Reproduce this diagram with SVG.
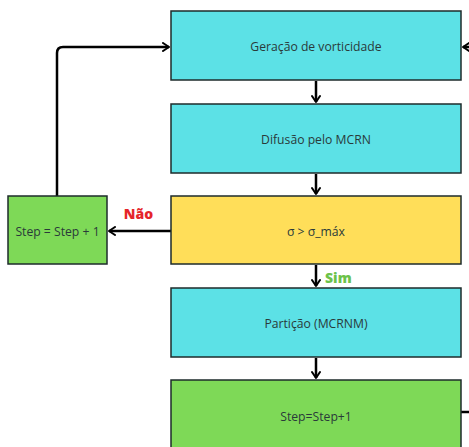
<svg xmlns="http://www.w3.org/2000/svg" width="469" height="447" viewBox="0 0 469 447">
<style>
.box{stroke:#1e2b2b;stroke-width:1.5}
.cyan{fill:#5ce1e6}
.yellow{fill:#ffde59}
.green{fill:#7ed957}
.t{font-family:"Open Sans","Noto Sans",sans-serif;font-size:12.2px;fill:#2a3a3a;text-anchor:middle;dominant-baseline:central}
.c{fill:none;stroke:#000;stroke-width:2.5;stroke-linejoin:round}
.lbl{font-family:"Open Sans","Noto Sans",sans-serif;font-size:14px;font-weight:800;dominant-baseline:central}
</style>
<defs>
<marker id="ah" viewBox="0 0 10 10" refX="8" refY="5" markerWidth="4" markerHeight="4" orient="auto" markerUnits="strokeWidth">
<path d="M2,1 L8,5 L2,9" fill="none" stroke="#000" stroke-width="2" stroke-linecap="round" stroke-linejoin="round"/>
</marker>
</defs>
<rect width="469" height="447" fill="#fff"/>
<g id="connectors">
<path class="c" d="M316,81 V102" marker-end="url(#ah)"/>
<path class="c" d="M316,174 V194" marker-end="url(#ah)"/>
<path class="c" d="M316,265 V286" marker-end="url(#ah)"/>
<path class="c" d="M316,358 V378" marker-end="url(#ah)"/>
<path class="c" d="M171,231 H109" marker-end="url(#ah)"/>
<path class="c" d="M57,196 V53 Q57,47 63,47 H169" marker-end="url(#ah)"/>
<path class="c" d="M461,412 H469"/>
<path class="c" d="M472,47 H463" marker-end="url(#ah)"/>
<text class="lbl" x="138.5" y="213" fill="#e5252a" text-anchor="middle">Não</text>
<text class="lbl" x="325" y="277" fill="#6cc24a">Sim</text>
</g>
<g id="n1"><rect class="box cyan" x="171" y="11" width="290" height="69"/><text class="t" x="316" y="46">Geração de vorticidade</text></g>
<g id="n2"><rect class="box cyan" x="171" y="104" width="290" height="69"/><text class="t" x="316" y="139">Difusão pelo MCRN</text></g>
<g id="n3"><rect class="box yellow" x="171" y="196" width="290" height="68"/><text class="t" x="316" y="231">σ &gt; σ_máx</text></g>
<g id="n4"><rect class="box cyan" x="171" y="288" width="290" height="69"/><text class="t" x="316" y="323">Partição (MCRNM)</text></g>
<g id="n5"><rect class="box green" x="171" y="380" width="290" height="80"/><text class="t" x="316" y="416">Step=Step+1</text></g>
<g id="n6"><rect class="box green" x="8" y="196" width="99" height="68"/><text class="t" x="57.5" y="231">Step = Step + 1</text></g>
</svg>
